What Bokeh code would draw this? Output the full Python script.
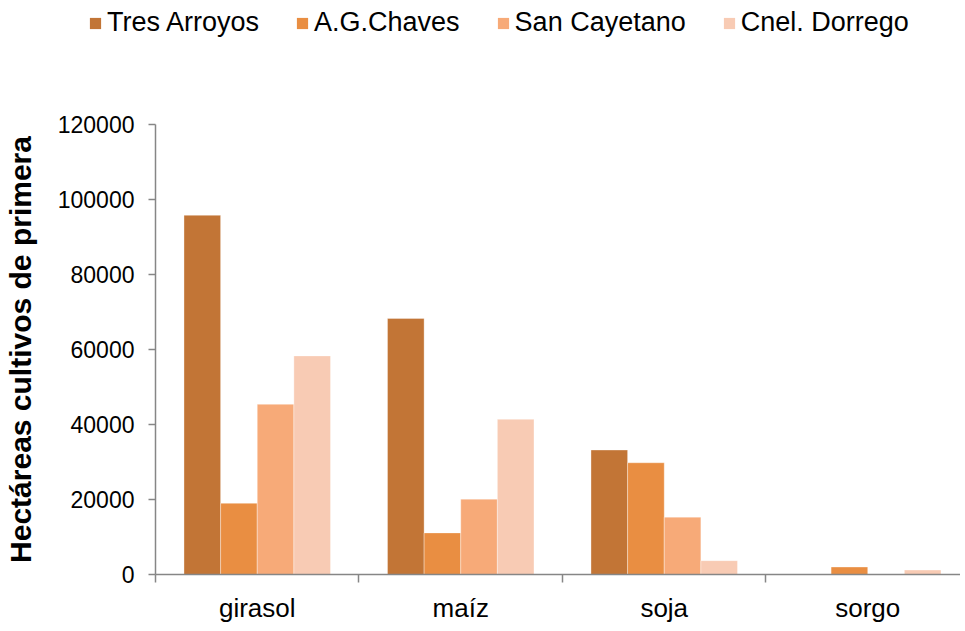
from bokeh.plotting import figure
from bokeh.layouts import column
from bokeh.models import (Range1d, FixedTicker, NumeralTickFormatter, Legend, LegendItem,
                          ColumnDataSource)
from bokeh.embed import file_html
from bokeh.resources import INLINE

categories = ["girasol", "maíz", "soja", "sorgo"]
series_names = ["Tres Arroyos", "A.G.Chaves", "San Cayetano", "Cnel. Dorrego"]
tres_arroyos = [95800, 68300, 33200, 0]
ag_chaves = [19000, 11100, 29800, 2000]
san_cayetano = [45400, 20100, 15300, 0]
cnel_dorrego = [58300, 41400, 3700, 1200]
colors = ["#C27536", "#E98E42", "#F7AA78", "#F8CBB4"]
y_ticks = [0, 20000, 40000, 60000, 80000, 100000, 120000]

series = [tres_arroyos, ag_chaves, san_cayetano, cnel_dorrego]

FONT = "Liberation Sans"
W = 960
LEG_H = 44
H = 625 - LEG_H
ML, MT, MB = 153, 124 - LEG_H, 46
cat_px = 204.0
frame_w = W - ML
frame_h = H - MT - MB

# ---- legend strip (top) ----
lg = figure(width=W, height=LEG_H, output_backend="svg", toolbar_location=None,
            x_axis_type=None, y_axis_type=None, x_range=Range1d(0, 1), y_range=Range1d(0, 1),
            min_border_left=0, min_border_right=0, min_border_top=0, min_border_bottom=0)
lg.frame_align = False
lg.outline_line_color = None
lg.xgrid.visible = False
lg.ygrid.visible = False
leg_renderers = []
for col in colors:
    # zero-height dummy bar, only used for the legend swatch
    leg_renderers.append(lg.vbar(x=[10], top=[0], bottom=[0], width=0.01,
                                 fill_color=col, line_color=None))
legend = Legend(items=[LegendItem(label=n, renderers=[r]) for n, r in zip(series_names, leg_renderers)],
                orientation="horizontal", location=(88, LEG_H - 38),
                padding=0, margin=0, spacing=36, label_standoff=5,
                glyph_width=14, glyph_height=14,
                label_text_font=FONT, label_text_font_size="27px", label_text_color="black",
                border_line_alpha=0, background_fill_alpha=0)
lg.add_layout(legend, "center")

# ---- main chart ----
p = figure(width=W, height=H, output_backend="svg", toolbar_location=None,
           x_range=Range1d(0, frame_w / cat_px), y_range=Range1d(0, 120000),
           min_border_left=ML, min_border_top=MT, min_border_bottom=MB, min_border_right=0)
p.outline_line_color = None
p.xgrid.visible = False
p.ygrid.visible = False
p.background_fill_color = "white"

bar_w = 0.18
offsets = [-1.5 * bar_w, -0.5 * bar_w, 0.5 * bar_w, 1.5 * bar_w]
for name, vals, col, off in zip(series_names, series, colors, offsets):
    src = ColumnDataSource(dict(x=[i + 0.5 + off for i in range(len(categories))], top=vals))
    p.vbar(x="x", top="top", width=bar_w, source=src, fill_color=col,
           line_color="white", line_alpha=0.35, line_width=1)

axis_col = "#868686"
ya = p.yaxis[0]
ya.ticker = FixedTicker(ticks=y_ticks, minor_ticks=[])
ya.formatter = NumeralTickFormatter(format="0")
ya.axis_line_color = axis_col
ya.axis_line_width = 1.5
ya.major_tick_line_color = axis_col
ya.major_tick_line_width = 1.5
ya.major_tick_in = 0
ya.major_tick_out = 7
ya.minor_tick_line_color = None
ya.major_label_standoff = 14
ya.major_label_text_font = FONT
ya.major_label_text_font_size = "23px"
ya.major_label_text_color = "black"
ya.axis_label = "Hectáreas cultivos de primera"
ya.axis_label_text_font = FONT
ya.axis_label_text_font_size = "30px"
ya.axis_label_text_font_style = "bold"
ya.axis_label_text_color = "black"
ya.axis_label_standoff = 18

xa = p.xaxis[0]
centers = [i + 0.5 for i in range(len(categories))]
bounds = [float(i) for i in range(len(categories) + 1)]
xa.ticker = FixedTicker(ticks=centers, minor_ticks=bounds)
xa.major_label_overrides = {c: lab for c, lab in zip(centers, categories)}
xa.axis_line_color = axis_col
xa.axis_line_width = 1.5
xa.major_tick_line_color = None
xa.major_tick_in = 0
xa.major_tick_out = 8
xa.minor_tick_line_color = axis_col
xa.minor_tick_line_width = 1.5
xa.minor_tick_in = 0
xa.minor_tick_out = 8
xa.major_label_standoff = 10
xa.major_label_text_font = FONT
xa.major_label_text_font_size = "26px"
xa.major_label_text_color = "black"

layout = column(lg, p, spacing=0)
open("out.html", "w").write(file_html(layout, INLINE))
